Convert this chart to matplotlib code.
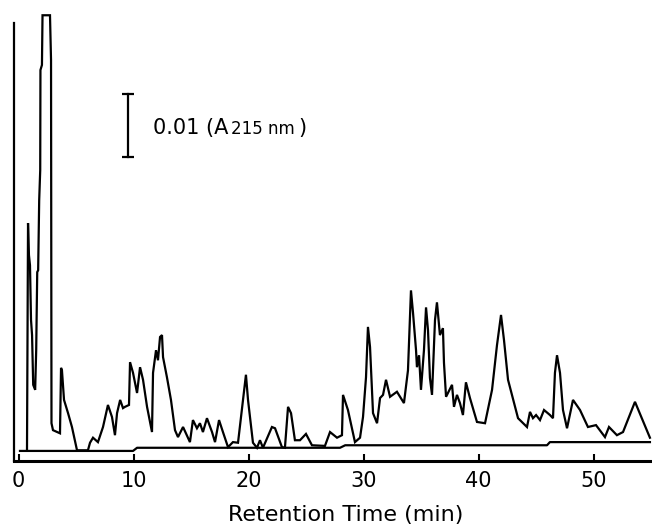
import matplotlib
matplotlib.use("Agg")
import matplotlib.pyplot as plt
from matplotlib.offsetbox import TextArea, HPacker, AnnotationBbox

# chromatogram trace: retention time (min) and absorbance at 215 nm (mAU)
time_min = [0.73, 0.82, 0.90, 0.99, 1.08, 1.17, 1.27, 1.44, 1.53, 1.62, 1.70, 1.79,
            1.88, 1.90, 2.03, 2.08, 2.73, 2.82, 2.86, 2.99, 3.60, 3.69, 3.77, 3.95,
            4.30, 4.64, 5.08, 6.03, 6.21, 6.47, 6.90, 7.34, 7.77, 8.12, 8.38, 8.56,
            8.83, 9.08, 9.25, 9.60, 9.69, 9.95, 10.30, 10.56, 10.82, 11.17, 11.60, 11.69,
            11.95, 12.12, 12.30, 12.47, 12.56, 12.90, 13.25, 13.60, 13.86, 14.30, 14.90, 15.16,
            15.51, 15.77, 16.03, 16.38, 16.82, 17.08, 17.43, 17.77, 18.21, 18.64, 19.08, 19.51,
            19.77, 19.95, 20.38, 20.73, 20.99, 21.25, 22.03, 22.30, 22.90, 23.16, 23.43, 23.69,
            24.03, 24.47, 24.99, 25.51, 26.64, 27.08, 27.69, 28.12, 28.21, 28.64, 29.25, 29.69,
            29.95, 30.21, 30.38, 30.56, 30.82, 31.17, 31.43, 31.69, 31.95, 32.30, 32.90, 33.51,
            33.86, 34.12, 34.30, 34.56, 34.64, 34.82, 34.99, 35.25, 35.43, 35.60, 35.77, 35.95,
            36.21, 36.38, 36.64, 36.90, 36.99, 37.17, 37.69, 37.86, 38.12, 38.38, 38.64, 38.90,
            39.25, 39.86, 40.56, 41.17, 41.60, 41.95, 42.21, 42.56, 43.17, 43.43, 44.21, 44.47,
            44.73, 45.00, 45.34, 45.69, 46.21, 46.47, 46.64, 46.82, 47.08, 47.34, 47.69, 48.21,
            48.82, 49.51, 50.21, 50.99, 51.34, 52.03, 52.56, 53.60, 54.90]
absorb_mau = [1.7, 37.8, 32.7, 31.1, 22.4, 20.0, 12.1, 11.3, 17.6, 30.0, 30.3, 41.4,
              46.2, 62.1, 62.9, 70.8, 70.8, 63.7, 6.0, 4.9, 4.4, 14.8, 14.4, 9.7,
              7.6, 5.4, 1.7, 1.7, 2.9, 3.7, 3.0, 5.4, 8.9, 7.0, 4.1, 7.6,
              9.7, 8.4, 8.6, 8.9, 15.7, 14.0, 10.8, 14.9, 12.9, 8.6, 4.6, 14.0,
              17.6, 16.0, 19.7, 20.0, 16.5, 13.3, 9.7, 4.9, 3.8, 5.4, 3.0, 6.5,
              5.2, 6.0, 4.6, 6.8, 4.6, 3.0, 6.5, 4.6, 2.2, 3.0, 2.9, 9.7,
              13.7, 9.7, 2.9, 2.1, 3.3, 2.1, 5.4, 5.2, 2.2, 2.1, 8.6, 7.6,
              3.3, 3.3, 4.3, 2.5, 2.4, 4.6, 3.7, 4.1, 10.5, 8.1, 3.0, 3.7,
              7.0, 13.3, 21.3, 18.1, 7.6, 6.0, 10.0, 10.5, 12.9, 10.2, 11.0, 9.2,
              14.4, 27.1, 23.5, 17.6, 14.9, 16.8, 11.3, 17.6, 24.4, 20.8, 13.2, 10.5,
              22.4, 25.2, 20.0, 21.1, 15.6, 10.2, 12.1, 8.6, 10.5, 9.2, 7.3, 12.5,
              10.0, 6.2, 6.0, 11.3, 18.4, 23.2, 19.2, 12.9, 8.6, 6.8, 5.4, 7.8,
              6.8, 7.3, 6.5, 8.1, 7.3, 6.8, 14.0, 16.8, 14.0, 8.1, 5.2, 9.7,
              8.1, 5.4, 5.7, 3.8, 5.4, 4.1, 4.6, 9.4, 3.7]

# blank-gradient baseline trace
base_time = [0.12, 9.95, 10.30, 27.95, 28.40, 45.95, 46.20, 54.90]
base_mau = [1.6, 1.6, 2.1, 2.1, 2.5, 2.5, 3.0, 3.0]

xticks = [0, 10, 20, 30, 40, 50]
scale_bar_mau = 10  # 0.01 AU

fig = plt.figure(figsize=(6.52, 5.25), dpi=100)
ax = fig.add_axes([14 / 652, 64 / 525, 638 / 652, 447 / 525])

ax.plot(time_min, absorb_mau, color="black", lw=1.6, solid_joinstyle="miter")
ax.plot(base_time, base_mau, color="black", lw=1.6)

# scale bar
ax.plot([9.5, 9.5], [48.3, 48.3 + scale_bar_mau], color="black", lw=1.6)
ax.plot([9.5, 9.5], [48.3, 48.3 + scale_bar_mau], ls="", marker="_",
        ms=8, mew=1.6, color="black")
label = HPacker(children=[TextArea("0.01 (A", textprops=dict(fontsize=15)),
                          TextArea("215 nm", textprops=dict(fontsize=12)),
                          TextArea(")", textprops=dict(fontsize=15))],
                align="baseline", pad=0, sep=2)
ax.add_artist(AnnotationBbox(label, (11.7, 52.9), frameon=False,
                             box_alignment=(0, 0.5), pad=0))

ax.set_xlim(-0.4, 55.08)
ax.set_ylim(0, 71)
ax.set_xticks(xticks)
ax.set_yticks([])
ax.tick_params(axis="x", direction="in", length=5, width=1.5, labelsize=15, pad=7)
for side in ["top", "right"]:
    ax.spines[side].set_visible(False)
ax.spines["bottom"].set_linewidth(2.2)
ax.spines["left"].set_linewidth(1.6)
ax.spines["left"].set_bounds(0, 69.5)

fig.text(346 / 652, 4 / 525, "Retention Time (min)", fontsize=16,
         ha="center", va="baseline")

fig.savefig("out.png", dpi=100)
